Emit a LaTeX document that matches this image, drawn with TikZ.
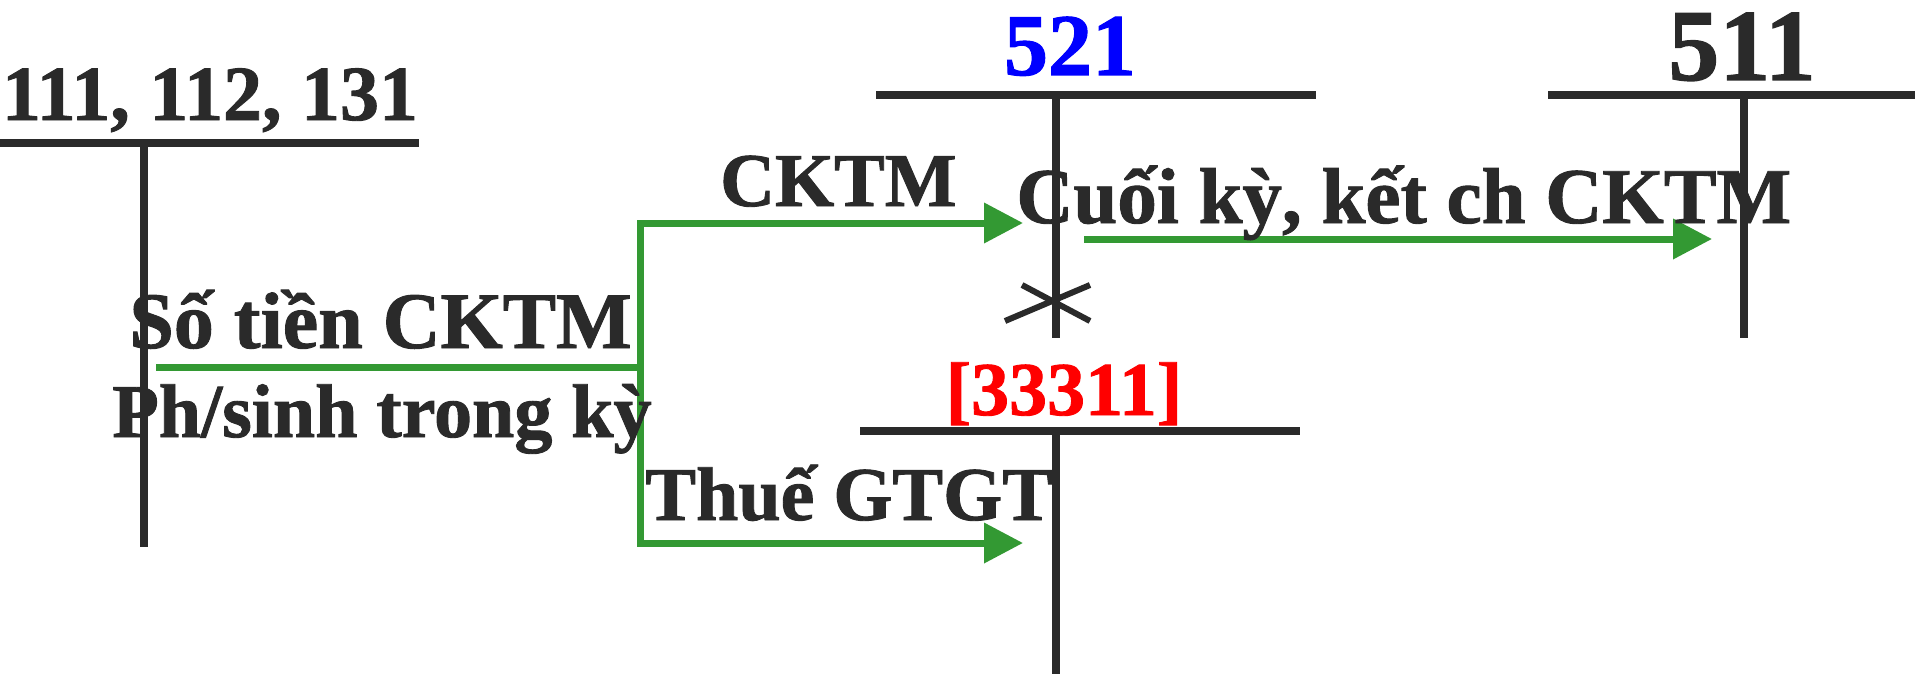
\documentclass[tikz,border=0pt]{standalone}
\usepackage{fontspec}
\setmainfont{Liberation Serif}[BoldFeatures={FakeBold=1.2}]
\usepackage{tikz}
\usetikzlibrary{positioning,arrows.meta,calc}
\definecolor{figdark}{RGB}{42,42,42}
\definecolor{figgreen}{RGB}{51,153,51}
\definecolor{figblue}{RGB}{0,0,255}
\definecolor{figred}{RGB}{255,0,0}
\tikzset{
  fig/.style={font=\bfseries\fontsize{38}{44}\selectfont},
  tbar/.style={line width=4pt,figdark},
  lbl/.style={inner sep=0pt,text=figdark},
  acct/.style={inner sep=0pt,anchor=base},
}

\begin{document}
\begin{tikzpicture}[fig,x=0.5pt,y=-0.5pt,
  flow/.style={-{Triangle[length=19.5pt,width=19.5pt]},line width=3.5pt,figgreen},
  cross/.style={line width=3pt,figdark}]

\useasboundingbox (0,0) rectangle (1915,674);

% T accounts
\coordinate (a111) at (144,143);
\coordinate (a521) at (1056,95);
\coordinate (a511) at (1744,95);
\coordinate (a333) at (1056,431);

\draw[tbar] ($(a111)+(-144,0)$) -- ($(a111)+(275,0)$);
\draw[tbar] (a111) -- ++(0,404);
\draw[tbar] ($(a521)+(-180,0)$) -- ($(a521)+(260,0)$);
\draw[tbar] (a521) -- ++(0,243);
\draw[tbar] ($(a511)+(-196,0)$) -- ($(a511)+(171,0)$);
\draw[tbar] (a511) -- ++(0,243);
\draw[tbar] ($(a333)+(-196,0)$) -- ($(a333)+(244,0)$);
\draw[tbar] (a333) -- ++(0,243);

\draw[cross] ($(a521)+(-51,226)$) -- ($(a521)+(34,190)$);
\draw[cross] ($(a521)+(-34,190)$) -- ($(a521)+(34,226)$);

\node[acct,text=figdark,font=\bfseries\fontsize{39}{45}\selectfont] (lbl111) at ($(a111)+(66,-23)$) {111, 112, 131};
\node[acct,text=figblue,font=\bfseries\fontsize{44}{50}\selectfont] (lbl521) at ($(a521)+(14,-20)$) {521};
\node[acct,text=figdark,font=\bfseries\fontsize{51}{58}\selectfont] (lbl511) at ($(a511)+(-2,-15)$) {511};
\node[acct,text=figred] (lbl333) at ($(a333)+(8,-16)$) {[33311]};

% flows
\coordinate (src) at (156,367);
\coordinate (fork) at (640,367);
\coordinate (in521) at ($(a521)+(-33,128)$);
\coordinate (in333) at ($(a333)+(-33,112)$);
\coordinate (out521) at ($(a521)+(28,144)$);
\coordinate (in511) at ($(a511)+(-32,144)$);

\draw[flow] (src) -- (fork) |- (in521);
\draw[flow] (fork) |- (in333);
\draw[flow] (out521) -- (in511);

\node[lbl,anchor=base east] (ckin) at ($(in521)+(-66,-17)$) {CKTM};
\node[lbl,anchor=base east,font=\bfseries\fontsize{40}{46}\selectfont] (sotien) at ($(fork)+(-8,-19)$) {Số tiền CKTM};
\node[lbl,anchor=base west] (phsinh) at ($(src)+(-44,70)$) {Ph/sinh trong kỳ};
\node[lbl,anchor=base west] (thue) at ($(in333)+(-378,-23)$) {Thuế GTGT};
\node[lbl,anchor=base west,font=\bfseries\fontsize{39.5}{46}\selectfont] (cuoiky) at ($(out521)+(-68,-16)$) {Cuối kỳ, kết ch CKTM};

\end{tikzpicture}
\end{document}
